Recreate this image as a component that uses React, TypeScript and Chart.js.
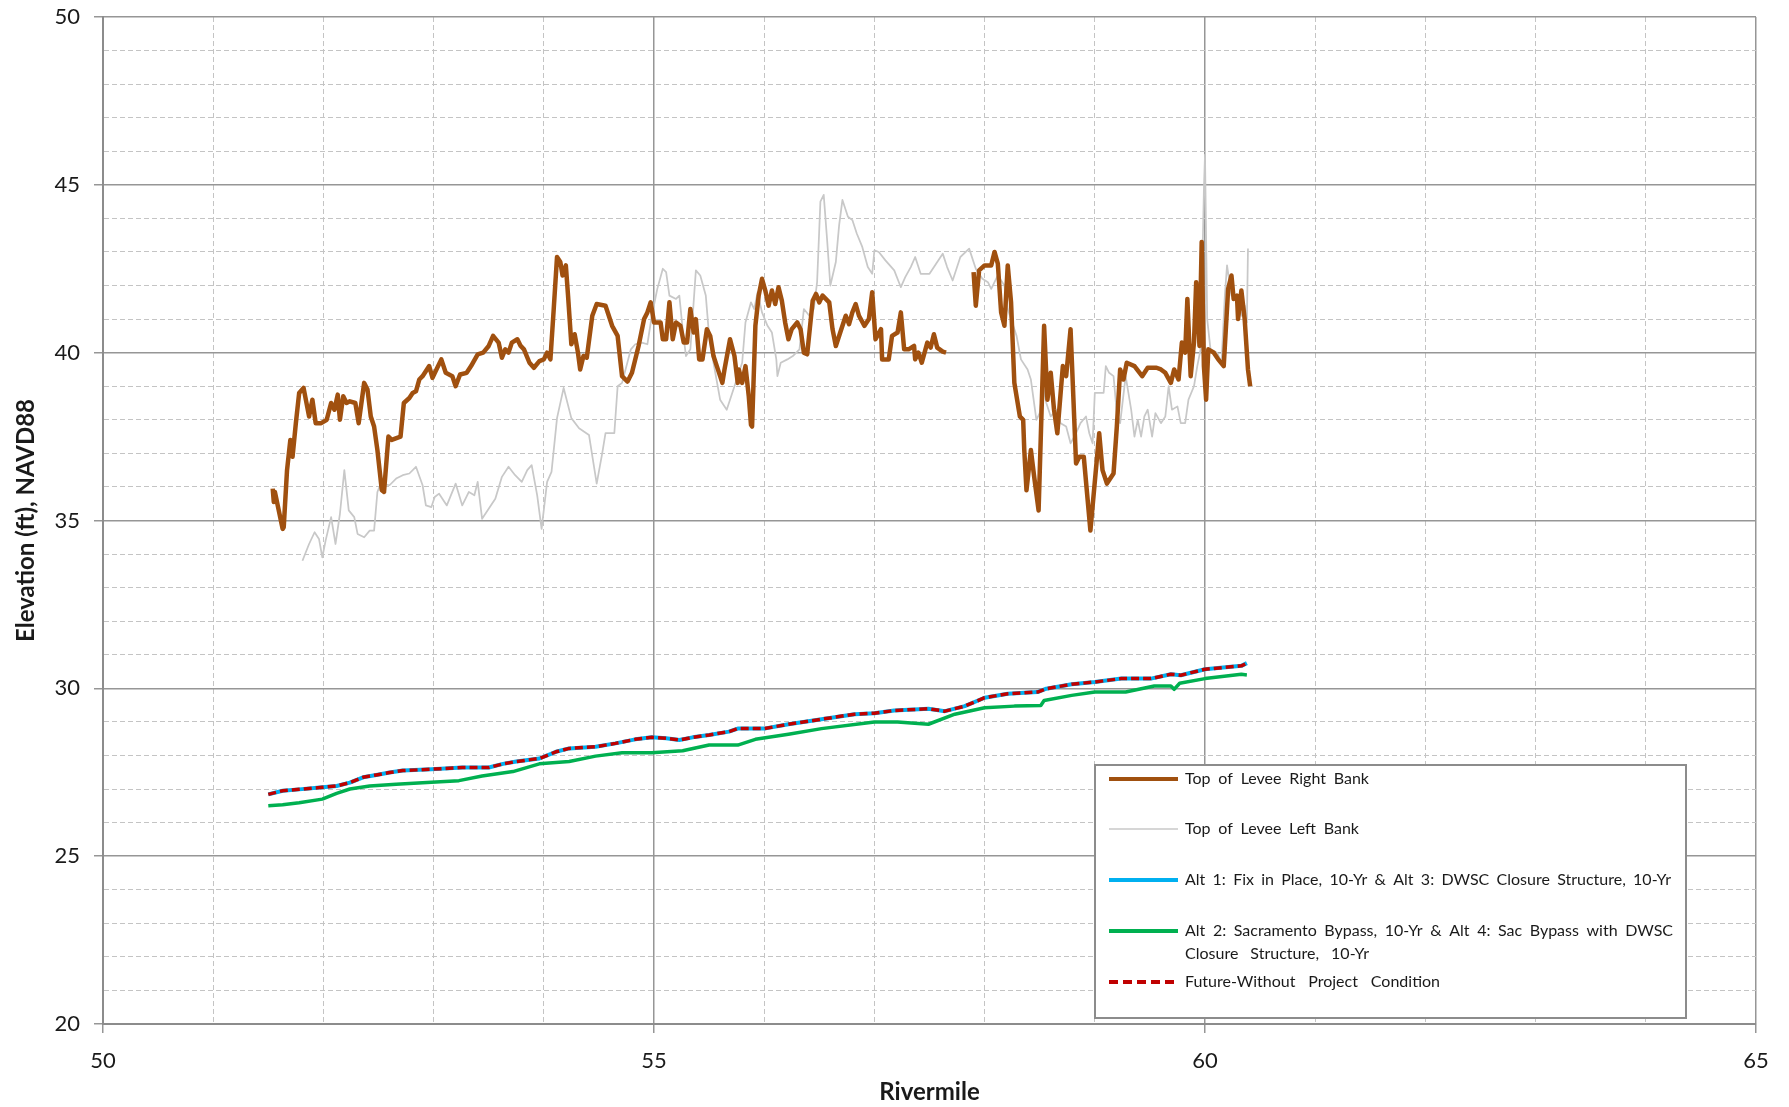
import React, { useEffect, useRef } from "react";
import { Chart, registerables } from "chart.js";

Chart.register(...registerables);

// ---------- DATA ----------
const rightBankRM = [
  51.54, 51.55, 51.56, 51.63, 51.64, 51.67, 51.7, 51.72, 51.75, 51.78, 51.82, 51.87, 51.9, 51.93, 51.98,
  52.03, 52.07, 52.1, 52.13, 52.15, 52.18, 52.21, 52.24, 52.29, 52.32, 52.37, 52.4, 52.43, 52.46, 52.49,
  52.53, 52.55, 52.59, 52.62, 52.7, 52.73, 52.78, 52.81, 52.84, 52.87, 52.9, 52.96, 52.99, 53.07, 53.11,
  53.17, 53.2, 53.24, 53.3, 53.34, 53.4, 53.45, 53.5, 53.54, 53.59, 53.62, 53.65, 53.68, 53.71, 53.76,
  53.79, 53.82, 53.87, 53.91, 53.96, 54.0, 54.03, 54.06, 54.09, 54.12, 54.15, 54.17, 54.2, 54.22, 54.25,
  54.28, 54.31, 54.33, 54.36, 54.39, 54.44, 54.48, 54.56, 54.62, 54.67, 54.71, 54.76, 54.8, 54.86, 54.91,
  54.94, 54.97, 55.0, 55.06, 55.08, 55.11, 55.14, 55.17, 55.2, 55.24, 55.27, 55.3, 55.33, 55.36, 55.38,
  55.41, 55.44, 55.48, 55.51, 55.54, 55.57, 55.62, 55.64, 55.69, 55.73, 55.76, 55.77, 55.8, 55.83, 55.86,
  55.88, 55.89, 55.92, 55.95, 55.98, 56.01, 56.04, 56.07, 56.1, 56.13, 56.16, 56.19, 56.22, 56.25, 56.3,
  56.33, 56.36, 56.39, 56.44, 56.47, 56.5, 56.53, 56.59, 56.62, 56.65, 56.69, 56.74, 56.77, 56.8, 56.83,
  56.86, 56.91, 56.95, 56.98, 57.01, 57.06, 57.07, 57.13, 57.16, 57.21, 57.24, 57.27, 57.31, 57.36, 57.37,
  57.4, 57.43, 57.48, 57.51, 57.54, 57.57, 57.62, 57.65, 57.78, 57.9, 57.92, 57.95, 58.0, 58.06, 58.09,
  58.12, 58.15, 58.18, 58.21, 58.24, 58.27, 58.32, 58.35, 58.36, 58.38, 58.42, 58.45, 58.49, 58.54, 58.57,
  58.6, 58.63, 58.66, 58.71, 58.74, 58.78, 58.83, 58.86, 58.9, 58.96, 59.04, 59.07, 59.11, 59.17, 59.2,
  59.23, 59.26, 59.29, 59.36, 59.43, 59.48, 59.56, 59.6, 59.64, 59.69, 59.72, 59.76, 59.79, 59.82, 59.84,
  59.87, 59.9, 59.92, 59.95, 59.97, 59.99, 60.01, 60.03, 60.08, 60.12, 60.17, 60.21, 60.24, 60.26, 60.29,
  60.3, 60.33, 60.36, 60.39, 60.41,
];
const rightBankElev = [
  35.95, 35.55, 35.85, 34.75, 34.8, 36.5, 37.4, 36.9, 37.9, 38.8, 38.95, 38.1, 38.6, 37.9, 37.9,
  38.0, 38.5, 38.3, 38.75, 38.0, 38.7, 38.5, 38.55, 38.5, 37.9, 39.1, 38.9, 38.1, 37.8, 37.1,
  35.9, 35.85, 37.5, 37.4, 37.5, 38.5, 38.65, 38.8, 38.85, 39.2, 39.3, 39.6, 39.25, 39.8, 39.4,
  39.3, 39.0, 39.35, 39.4, 39.6, 39.95, 40.0, 40.2, 40.5, 40.3, 39.85, 40.1, 40.0, 40.3, 40.4,
  40.2, 40.1, 39.7, 39.55, 39.75, 39.8, 40.0, 39.8, 41.3, 42.85, 42.7, 42.3, 42.6, 41.7, 40.25,
  40.55, 40.0, 39.5, 39.9, 39.85, 41.1, 41.45, 41.4, 40.8, 40.5, 39.3, 39.14, 39.4, 40.2, 41.0,
  41.2, 41.5, 40.9, 40.9, 40.4, 40.4, 41.5, 40.4, 40.9, 40.8, 40.3, 40.3, 41.3, 40.6, 41.0,
  39.8, 39.8, 40.7, 40.5, 39.9, 39.6, 39.1, 39.5, 40.4, 39.9, 39.1, 39.5, 39.1, 39.6, 38.7,
  37.85, 37.8, 40.8, 41.7, 42.2, 41.85, 41.4, 41.85, 41.45, 41.95, 41.55, 40.9, 40.4, 40.7, 40.9,
  40.7, 40.0, 39.95, 41.55, 41.75, 41.5, 41.7, 41.5, 40.7, 40.2, 40.6, 41.1, 40.85, 41.2, 41.45,
  41.1, 40.8, 41.0, 41.8, 40.4, 40.7, 39.8, 39.8, 40.5, 40.6, 41.2, 40.1, 40.1, 40.2, 39.8,
  40.0, 39.7, 40.3, 40.15, 40.55, 40.15, 40.03, 40.0, null, 42.4, 41.4, 42.45, 42.6, 42.6, 43.0,
  42.65, 41.2, 40.8, 42.6, 41.5, 39.1, 38.1, 38.0, 37.1, 35.9, 37.1, 36.3, 35.3, 40.8, 38.6,
  39.4, 38.3, 37.6, 39.6, 39.3, 40.7, 36.7, 36.9, 36.9, 34.7, 37.6, 36.5, 36.1, 36.4, 37.8,
  39.5, 39.2, 39.7, 39.6, 39.3, 39.55, 39.55, 39.5, 39.4, 39.1, 39.5, 39.2, 40.3, 40.0, 41.6,
  39.3, 40.3, 42.1, 40.2, 43.3, 39.6, 38.6, 40.1, 40.0, 39.8, 39.6, 41.9, 42.3, 41.6, 41.7,
  41.0, 41.85, 41.0, 39.5, 39.0,
];

const leftBankRM = [
  51.81, 51.87, 51.92, 51.96, 51.99, 52.02, 52.07, 52.11, 52.15, 52.19, 52.23, 52.28, 52.31, 52.37, 52.42,
  52.46, 52.49, 52.52, 52.6, 52.66, 52.72, 52.78, 52.84, 52.9, 52.93, 52.98, 53.01, 53.05, 53.12, 53.2,
  53.26, 53.32, 53.37, 53.4, 53.44, 53.5, 53.56, 53.62, 53.68, 53.74, 53.8, 53.85, 53.89, 53.94, 53.98,
  54.03, 54.07, 54.12, 54.18, 54.25, 54.32, 54.41, 54.48, 54.53, 54.56, 54.64, 54.67, 54.71, 54.79, 54.83,
  54.89, 54.94, 54.98, 55.03, 55.08, 55.11, 55.14, 55.2, 55.23, 55.26, 55.29, 55.33, 55.38, 55.42, 55.47,
  55.5, 55.54, 55.6, 55.66, 55.71, 55.76, 55.8, 55.83, 55.88, 55.91, 55.94, 55.98, 56.03, 56.07, 56.11,
  56.12, 56.15, 56.21, 56.26, 56.32, 56.36, 56.41, 56.45, 56.48, 56.51, 56.54, 56.57, 56.6, 56.65, 56.68,
  56.71, 56.76, 56.8, 56.84, 56.89, 56.94, 56.98, 57.0, 57.04, 57.1, 57.18, 57.24, 57.28, 57.33, 57.37,
  57.42, 57.5, 57.56, 57.62, 57.66, 57.71, 57.78, 57.86, 57.92, 57.98, 58.03, 58.06, 58.12, 58.18, 58.21,
  58.29, 58.33, 58.39, 58.42, 58.47, 58.5, 58.53, 58.56, 58.6, 58.65, 58.69, 58.74, 58.78, 58.83, 58.87,
  58.92, 58.95, 58.98, 59.0, 59.08, 59.1, 59.13, 59.17, 59.2, 59.23, 59.28, 59.33, 59.36, 59.39, 59.42,
  59.45, 59.48, 59.52, 59.55, 59.6, 59.64, 59.67, 59.7, 59.75, 59.78, 59.82, 59.85, 59.9, 59.93, 59.96,
  59.99, 60.0, 60.02, 60.05, 60.11, 60.15, 60.18, 60.2, 60.24, 60.29, 60.33, 60.36, 60.38, 60.39,
];
const leftBankElev = [
  33.8, 34.3, 34.65, 34.45, 33.9, 34.4, 35.1, 34.3, 35.2, 36.5, 35.3, 35.1, 34.6, 34.5, 34.7,
  34.7, 35.85, 36.1, 36.05, 36.25, 36.35, 36.4, 36.6, 36.05, 35.45, 35.4, 35.7, 35.8, 35.45, 36.1,
  35.45, 35.85, 35.75, 36.15, 35.05, 35.35, 35.65, 36.3, 36.6, 36.35, 36.15, 36.5, 36.65, 35.75, 34.75,
  36.15, 36.45, 38.05, 38.95, 38.05, 37.75, 37.55, 36.1, 37.0, 37.6, 37.6, 39.0, 39.1, 40.1, 40.25,
  40.3, 40.25, 41.1, 41.9, 42.5, 42.4, 41.7, 41.6, 41.7, 40.7, 39.9, 40.1, 42.45, 42.3, 41.7,
  40.5, 39.7, 38.6, 38.3, 38.8, 39.3, 39.7, 40.9, 41.5, 41.3, 41.8, 41.2, 40.8, 40.6, 39.8,
  39.3, 39.7, 39.8, 39.9, 40.1, 41.3, 41.1, 41.3, 42.1, 44.5, 44.7, 43.4, 42.0, 42.7, 43.8,
  44.55, 44.05, 43.95, 43.55, 43.15, 42.55, 42.35, 43.05, 43.0, 42.75, 42.45, 41.95, 42.25, 42.55, 42.85,
  42.35, 42.35, 42.65, 42.95, 42.55, 42.15, 42.85, 43.1, 42.5, 42.2, 42.1, 41.9, 42.3, 42.0, 41.3,
  40.5, 39.8, 39.5, 39.2, 38.0, 38.2, 39.0, 38.5, 38.1, 38.3, 37.9, 37.8, 37.3, 37.6, 37.9,
  38.1, 37.6, 37.3, 38.8, 38.8, 39.6, 39.4, 39.3, 38.2, 37.9, 39.3, 38.3, 37.5, 38.0, 37.5,
  38.1, 38.3, 37.5, 38.2, 37.9, 38.1, 39.0, 38.3, 38.4, 37.9, 37.9, 38.6, 39.0, 39.6, 40.1,
  44.85, 45.9, 41.0, 40.1, 40.0, 39.7, 41.7, 42.6, 41.7, 41.7, 41.1, 41.4, 40.9, 43.1,
];

const futureRM = [
  51.5, 51.63, 51.78, 51.99, 52.12, 52.24, 52.36, 52.48, 52.6, 52.72, 52.98, 53.26, 53.5, 53.63, 53.75,
  53.96, 54.11, 54.23, 54.47, 54.65, 54.83, 54.98, 55.11, 55.23, 55.35, 55.5, 55.68, 55.76, 56.0, 56.22,
  56.52, 56.82, 57.0, 57.18, 57.49, 57.64, 57.82, 58.0, 58.21, 58.48, 58.56, 58.79, 59.0, 59.24, 59.51,
  59.69, 59.78, 60.0, 60.33, 60.38,
];
const futureElev = [
  26.84, 26.95, 26.99, 27.05, 27.09, 27.19, 27.35, 27.42, 27.49, 27.55, 27.59, 27.64, 27.64, 27.75, 27.82,
  27.91, 28.11, 28.21, 28.26, 28.36, 28.48, 28.54, 28.51, 28.46, 28.54, 28.61, 28.71, 28.8, 28.8, 28.93,
  29.08, 29.23, 29.26, 29.34, 29.39, 29.32, 29.47, 29.72, 29.84, 29.89, 29.99, 30.12, 30.19, 30.29, 30.29,
  30.42, 30.39, 30.57, 30.67, 30.75,
];
// Alt 1 / Alt 3 profile lies under the Future-Without profile
const alt1RM = futureRM;
const alt1Elev = futureElev;

const alt2RM = [
  51.5, 51.63, 51.78, 51.99, 52.12, 52.24, 52.42, 52.66, 52.98, 53.23, 53.44, 53.72, 53.96, 54.23, 54.47,
  54.71, 54.98, 55.26, 55.5, 55.76, 55.92, 56.22, 56.52, 57.0, 57.21, 57.49, 57.73, 58.0, 58.27, 58.51,
  58.54, 58.79, 59.0, 59.28, 59.54, 59.69, 59.72, 59.77, 60.0, 60.33, 60.38,
];
const alt2Elev = [
  26.5, 26.53, 26.59, 26.7, 26.87, 27.0, 27.09, 27.14, 27.2, 27.25, 27.39, 27.52, 27.75, 27.82, 27.98,
  28.08, 28.08, 28.14, 28.31, 28.31, 28.48, 28.63, 28.8, 29.0, 29.0, 28.93, 29.23, 29.42, 29.47, 29.49,
  29.64, 29.79, 29.89, 29.89, 30.07, 30.07, 29.97, 30.15, 30.29, 30.42, 30.4,
];

const xMin = 50;
const xMax = 65;
const yMin = 20;
const yMax = 50;
const majorStep = 5;

const xTitle = "Rivermile";
const yTitle = "Elevation (ft), NAVD88";

const legendLabels = [
  ["Top of Levee Right Bank"],
  ["Top of Levee Left Bank"],
  ["Alt 1: Fix in Place, 10-Yr & Alt 3: DWSC Closure Structure, 10-Yr"],
  ["Alt 2: Sacramento Bypass, 10-Yr & Alt 4: Sac Bypass with DWSC", "Closure Structure, 10-Yr"],
  ["Future-Without Project Condition"],
];

// ---------- STYLE ----------
const COLORS = {
  right: "#A0500F",
  left: "#C8C8C8",
  alt1: "#00B0F0",
  alt2: "#00B050",
  future: "#C00000",
};
const FONT = "Lato, 'Open Sans', sans-serif";

const pts = (xs: number[], ys: (number | null)[]) => xs.map((x, i) => ({ x, y: ys[i] }));

const isMajor = (ctx: any) => ctx.tick && Math.abs(ctx.tick.value % majorStep) < 1e-6;

const legendPlugin = {
  id: "boxLegend",
  afterDraw(chart: any) {
    const ctx = chart.ctx as CanvasRenderingContext2D;
    const bx = 1095, by = 765, bw = 591, bh = 253;
    ctx.save();
    ctx.fillStyle = "#ffffff";
    ctx.fillRect(bx, by, bw, bh);
    ctx.strokeStyle = "#8c8c8c";
    ctx.lineWidth = 2;
    ctx.strokeRect(bx, by, bw, bh);

    const styles = [
      { color: COLORS.right, width: 4, dash: [] as number[] },
      { color: COLORS.left, width: 1.5, dash: [] as number[] },
      { color: COLORS.alt1, width: 4, dash: [] as number[] },
      { color: COLORS.alt2, width: 4, dash: [] as number[] },
      { color: COLORS.future, width: 4, dash: [9, 5] },
    ];
    const rowY = [779, 829, 880, 931, 982];
    // widths the (justified) legend text spans in the original
    const spanW = [[184], [174], [486], [488, 184], [255]];
    const lineH = 23;
    ctx.font = `16px ${FONT}`;
    ctx.textBaseline = "middle";
    ctx.textAlign = "left";
    legendLabels.forEach((lines, i) => {
      const st = styles[i];
      const y = rowY[i];
      ctx.beginPath();
      ctx.strokeStyle = st.color;
      ctx.lineWidth = st.width;
      ctx.setLineDash(st.dash);
      ctx.moveTo(1109, y);
      ctx.lineTo(1178, y);
      ctx.stroke();
      ctx.setLineDash([]);
      ctx.fillStyle = "#1a1a1a";
      lines.forEach((t, j) => {
        const c: any = ctx;
        c.wordSpacing = "0px";
        const w = ctx.measureText(t).width;
        const spaces = (t.match(/ /g) || []).length;
        const target = spanW[i][j];
        if (spaces > 0 && target > w) {
          c.wordSpacing = `${(target - w) / spaces}px`;
        }
        ctx.fillText(t, 1185, y + j * lineH);
        c.wordSpacing = "0px";
      });
    });
    ctx.restore();
  },
};

export default function App() {
  const ref = useRef<HTMLCanvasElement | null>(null);

  useEffect(() => {
    document.body.style.margin = "0";
    if (!ref.current) return;

    const gridCfg = {
      color: (c: any) => (isMajor(c) ? "#969696" : "#c4c4c4"),
      lineWidth: (c: any) => (isMajor(c) ? 1.5 : 1),
      tickColor: (c: any) => (isMajor(c) ? "#969696" : "rgba(0,0,0,0)"),
      tickLength: 9,
      tickWidth: 1.5,
      drawTicks: true,
    };
    const borderCfg = {
      display: true,
      color: "#8c8c8c",
      width: 2,
      dash: (c: any) => (c.tick && !isMajor(c) ? [5, 3] : []),
    };
    const zeroPad = (s: any) => {
      s.paddingTop = 0;
      s.paddingBottom = 0;
      s.paddingLeft = 0;
      s.paddingRight = 0;
    };

    const chart = new Chart(ref.current, {
      type: "line",
      data: {
        datasets: [
          {
            label: "Future-Without Project Condition",
            data: pts(futureRM, futureElev),
            borderColor: COLORS.future,
            borderWidth: 3.5,
            borderDash: [8, 4],
            pointRadius: 0,
            order: 0,
          },
          {
            label: "Alt 1",
            data: pts(alt1RM, alt1Elev),
            borderColor: COLORS.alt1,
            borderWidth: 4,
            pointRadius: 0,
            order: 1,
          },
          {
            label: "Alt 2",
            data: pts(alt2RM, alt2Elev),
            borderColor: COLORS.alt2,
            borderWidth: 3.5,
            pointRadius: 0,
            order: 2,
          },
          {
            label: "Top of Levee Right Bank",
            data: pts(rightBankRM, rightBankElev),
            borderColor: COLORS.right,
            borderWidth: 4.5,
            pointRadius: 0,
            spanGaps: false,
            order: 3,
          },
          {
            label: "Top of Levee Left Bank",
            data: pts(leftBankRM, leftBankElev),
            borderColor: COLORS.left,
            borderWidth: 1.75,
            pointRadius: 0,
            order: 4,
          },
        ],
      },
      options: {
        responsive: false,
        animation: false,
        devicePixelRatio: 1,
        layout: { padding: { left: 0, top: 17, right: 33, bottom: 0 } },
        plugins: {
          legend: { display: false },
          tooltip: { enabled: false },
        },
        elements: { line: { tension: 0, borderJoinStyle: "round", borderCapStyle: "butt" } },
        scales: {
          x: {
            type: "linear",
            min: xMin,
            max: xMax,
            afterFit: (s: any) => {
              s.height = 83;
              zeroPad(s);
            },
            ticks: {
              stepSize: 1,
              autoSkip: false,
              maxRotation: 0,
              padding: 15,
              color: "#1a1a1a",
              font: { family: FONT, size: 22 },
              callback: (v: any) => (Number(v) % majorStep === 0 ? String(v) : ""),
            },
            grid: gridCfg as any,
            border: borderCfg as any,
            title: {
              display: true,
              text: xTitle,
              color: "#1a1a1a",
              font: { family: FONT, size: 24, weight: "bold" },
              padding: { top: 0, bottom: 0 },
            },
          },
          y: {
            type: "linear",
            min: yMin,
            max: yMax,
            afterFit: (s: any) => {
              s.width = 103;
              zeroPad(s);
            },
            ticks: {
              stepSize: 1,
              autoSkip: false,
              padding: 14,
              color: "#1a1a1a",
              font: { family: FONT, size: 22 },
              callback: (v: any) => (Number(v) % majorStep === 0 ? String(v) : ""),
            },
            grid: gridCfg as any,
            border: borderCfg as any,
            title: {
              display: true,
              text: yTitle,
              color: "#1a1a1a",
              font: { family: FONT, size: 24, weight: "bold" },
              padding: { top: 12, bottom: 0 },
            },
          },
        },
      } as any,
      plugins: [legendPlugin],
    });
    return () => chart.destroy();
  }, []);

  return (
    <div style={{ width: 1789, height: 1107, background: "#fff" }}>
      <canvas ref={ref} width={1789} height={1107} style={{ display: "block" }} />
    </div>
  );
}
